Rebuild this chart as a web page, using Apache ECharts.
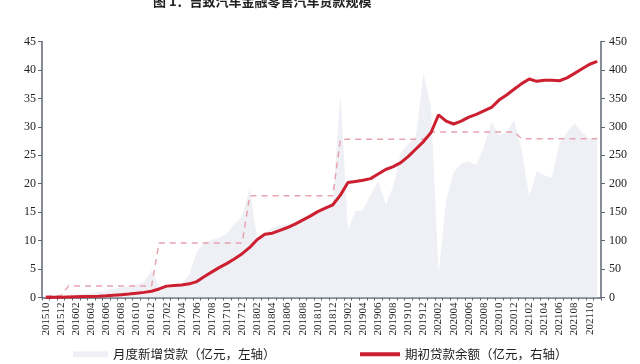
<!DOCTYPE html>
<html><head><meta charset="utf-8">
<script src="https://cdn.jsdelivr.net/npm/echarts@6/dist/echarts.min.js"></script>
<style>html,body{margin:0;padding:0;background:#fff}#c{width:640px;height:364px}</style>
</head><body><div id="c"></div>
<script>
// categories 201510 .. 202111
const months = [];
(function(){let y=2015,m=10;while(!(y===2021&&m===12)){months.push(''+y+(m<10?'0'+m:m));m++;if(m>12){m=1;y++;}}})();

// monthly new loans (100m yuan, left axis)
const newLoans = [0.2,0.3,0.4,0.5,0.6,0.7,0.8,1.0,1.2,1.5,1.8,2.0,2.3,2.8,4.8,1.9,2.0,2.3,2.5,4.0,
  8.0,9.8,10.1,10.5,11.3,13.0,14.2,19.2,10.1,11.3,12.3,12.6,12.9,13.3,13.8,14.5,15.0,15.8,16.8,35.9,
  11.9,15.1,15.4,18.0,20.5,16.4,19.5,25.5,27.0,28.3,39.4,33.5,4.3,17.1,22.0,23.5,23.9,23.3,26.5,30.8,
  28.5,29.0,31.2,25.9,17.7,22.2,21.5,21.0,27.1,29.0,30.6,29.0,27.8,28.3];
// loan balance at start of period (100m yuan, right axis)
const balance = [0,0.3,0.6,1,1.3,1.6,1.9,2.2,3,4,5,6,7.5,9,11,15,20,21,22,24,
  28,37,45,53,60,68,77,88,102,111,113,118,123,129,136,143,151,157,163,180,
  202,204,206,209,217,225,230,237,248,261,274,290,321,310,305,310,317,322,328,334,
  347,356,366,376,384,380,382,382,381,386,394,402,410,415];
// yearly average of monthly new loans (dashed)
const yearAvg = {2015:0.3,2016:2.0,2017:9.6,2018:17.9,2019:27.8,2020:29.1,2021:27.9};
const avgLine = months.map(m => yearAvg[m.slice(0,4)]);

const leftTicks = {min:0,max:45,interval:5};
const rightTicks = {min:0,max:450,interval:50};

const serif = '"Liberation Serif","DejaVu Serif",serif';
const cjk = '"Noto Sans CJK SC",sans-serif';
const axisCol = '#5f6673';
const areaCol = '#eff0f5';

const chart = echarts.init(document.getElementById('c'));
chart.setOption({
  animation:false,
  backgroundColor:'#fff',
  graphic:[{type:'text',left:153,top:-5,style:{text:'图 1：吉致汽车金融零售汽车贷款规模',font:'bold 13px '+cjk,fill:'#222'}}],
  grid:{left:42,right:39,top:41.5,bottom:66.5},
  legend:[
    {left:68,top:343,itemWidth:35,itemHeight:6,itemGap:6,data:[{name:'月度新增贷款（亿元，左轴）',icon:'rect'}],
     textStyle:{fontFamily:cjk,fontSize:12.5,color:'#222'}},
    {left:355,top:343,itemWidth:40,itemHeight:4,itemGap:4,data:[{name:'期初贷款余额（亿元，右轴）',icon:'rect'}],
     textStyle:{fontFamily:cjk,fontSize:12.5,color:'#222'}}
  ],
  xAxis:{type:'category',data:months,boundaryGap:true,
    axisLine:{lineStyle:{color:axisCol,width:1.5}},
    axisTick:{show:true,interval:0,length:3,lineStyle:{color:axisCol}},
    axisLabel:{interval:1,rotate:90,fontFamily:serif,fontSize:11,color:'#222',margin:5}},
  yAxis:[
    {type:'value',min:leftTicks.min,max:leftTicks.max,interval:leftTicks.interval,position:'left',
     splitLine:{show:false},axisLine:{show:true,lineStyle:{color:axisCol,width:1.5}},
     axisTick:{show:true,length:4,lineStyle:{color:axisCol}},
     axisLabel:{fontFamily:serif,fontSize:12,color:'#222',margin:6}},
    {type:'value',min:rightTicks.min,max:rightTicks.max,interval:rightTicks.interval,position:'right',
     splitLine:{show:false},axisLine:{show:true,lineStyle:{color:axisCol,width:1.5}},
     axisTick:{show:true,length:4,lineStyle:{color:axisCol}},
     axisLabel:{fontFamily:serif,fontSize:12,color:'#222',margin:8}}
  ],
  series:[
    {name:'月度新增贷款（亿元，左轴）',type:'line',yAxisIndex:0,data:newLoans,symbol:'none',
     lineStyle:{width:0,color:areaCol},itemStyle:{color:areaCol},areaStyle:{color:areaCol,opacity:1},z:1},
    {name:'年均',type:'line',yAxisIndex:0,data:avgLine,symbol:'none',
     lineStyle:{width:1.5,color:'#e7a3ae',type:[6,5]},z:2},
    {name:'期初贷款余额（亿元，右轴）',type:'line',yAxisIndex:1,data:balance,symbol:'none',
     lineStyle:{width:3,color:'#cc1f30'},itemStyle:{color:'#cc1f30'},z:3}
  ]
});
</script></body></html>
